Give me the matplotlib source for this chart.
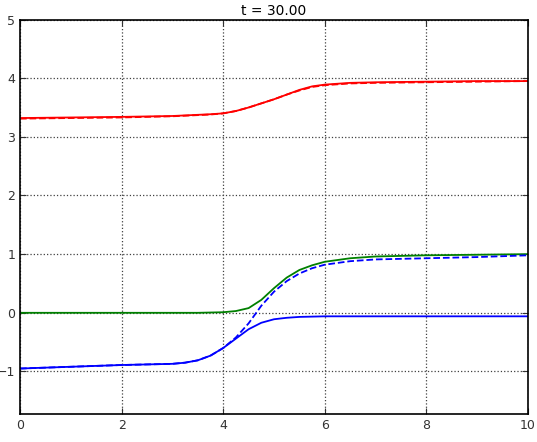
import numpy as np
import matplotlib
matplotlib.use('Agg')
import matplotlib.pyplot as plt

# values
x = [0, 1, 2, 3, 3.25, 3.5, 3.75, 4, 4.25, 4.5, 4.75, 5, 5.25, 5.5, 5.75, 6, 6.5, 7, 8, 9, 10]

red_solid = [3.32, 3.33, 3.34, 3.355, 3.365, 3.375, 3.385, 3.40, 3.44, 3.50, 3.57, 3.64, 3.72, 3.80, 3.86, 3.89, 3.92, 3.93, 3.94, 3.95, 3.95]
red_dashed = [3.31, 3.32, 3.33, 3.35, 3.36, 3.37, 3.38, 3.40, 3.44, 3.50, 3.57, 3.64, 3.72, 3.79, 3.85, 3.88, 3.91, 3.92, 3.93, 3.94, 3.95]

green_solid = [0.0, 0.0, 0.0, 0.0, 0.0, 0.0, 0.005, 0.01, 0.03, 0.08, 0.22, 0.42, 0.60, 0.73, 0.81, 0.87, 0.93, 0.96, 0.98, 0.99, 1.0]

blue_solid = [-0.95, -0.92, -0.89, -0.87, -0.85, -0.81, -0.73, -0.60, -0.44, -0.28, -0.17, -0.11, -0.085, -0.07, -0.065, -0.06, -0.06, -0.06, -0.06, -0.06, -0.06]
blue_dashed = [-0.95, -0.92, -0.89, -0.87, -0.85, -0.81, -0.73, -0.60, -0.42, -0.18, 0.12, 0.36, 0.54, 0.67, 0.76, 0.82, 0.88, 0.91, 0.93, 0.95, 0.98]

title = 't = 30.00'
xticks = [0, 2, 4, 6, 8, 10]
yticks = [-1, 0, 1, 2, 3, 4, 5]

fig = plt.figure(figsize=(5.37, 4.42), dpi=100)
ax = fig.add_axes([20 / 537, 1 - 413.7 / 442, 508 / 537, (413.7 - 19.5) / 442])

ax.plot(x, red_solid, color='r', lw=1.3)
ax.plot(x, red_dashed, color='r', lw=1.3, ls='--')
ax.plot(x, green_solid, color='g', lw=1.3)
ax.plot(x, blue_solid, color='b', lw=1.3)
ax.plot(x, blue_dashed, color='b', lw=1.3, ls='--')

ax.set_xlim(0, 10)
ax.set_ylim(-1.72, 5)
ax.set_xticks(xticks)
ax.set_yticks(yticks)
ax.grid(True, color='0.25', ls=':', lw=0.9)
ax.tick_params(direction='in', length=4, labelsize=9, colors='#333333', right=True, top=True)
for s in ax.spines.values():
    s.set_linewidth(1.2)
ax.set_title(title, fontsize=10, pad=3)

fig.savefig('out.png', dpi=100)
